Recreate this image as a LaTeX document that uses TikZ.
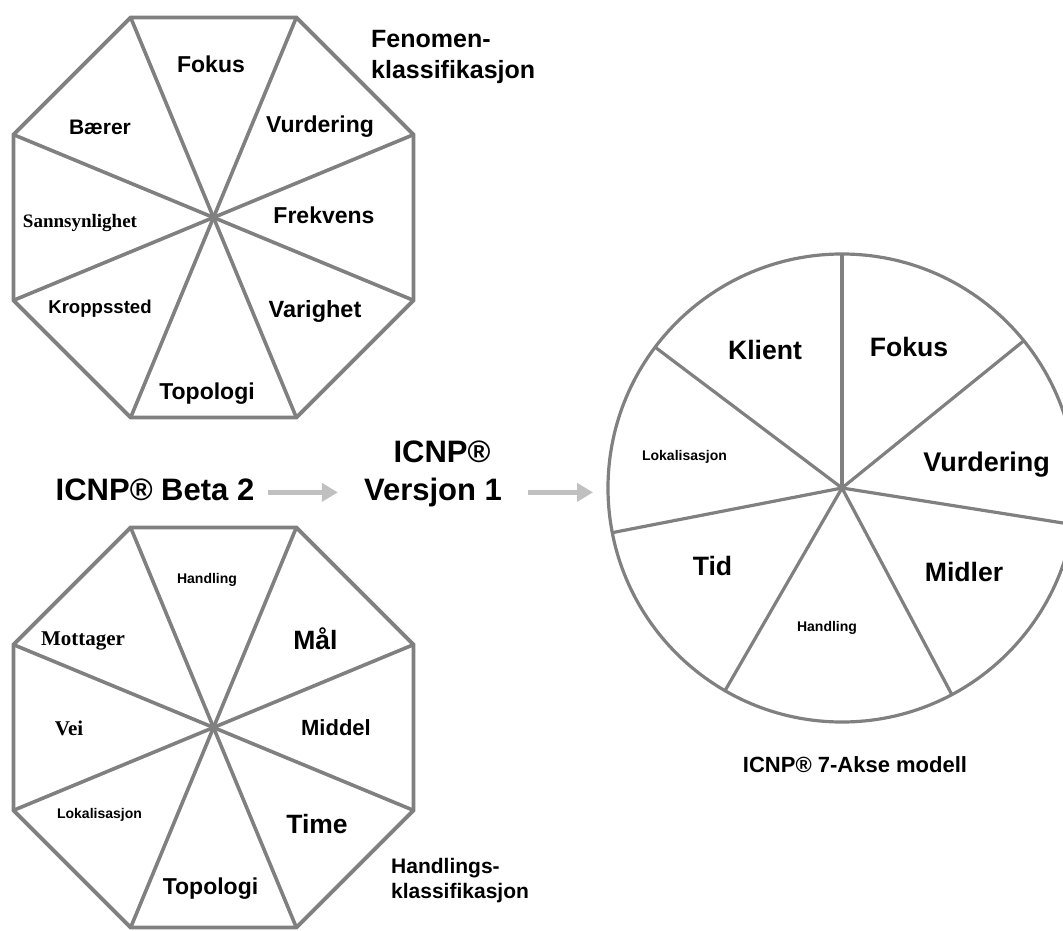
\documentclass[tikz,border=0pt]{standalone}
\usepackage{fontspec}
\setmainfont{Liberation Sans}
\newfontfamily\timesfont{Liberation Serif}
\usetikzlibrary{shapes.geometric,arrows.meta}
\definecolor{edgegray}{HTML}{808080}
\definecolor{arrowgray}{HTML}{C0C0C0}
\begin{document}
\begin{tikzpicture}[x=1pt,y=-1pt,
	spoke/.style={draw=edgegray,line width=3.6pt},
	octa/.style={regular polygon,regular polygon sides=8,minimum size=433pt,inner sep=0pt,outer sep=0pt,draw=edgegray,line width=3.8pt},
	lbl/.style={inner sep=0pt,anchor=base,font=\bfseries\fontsize{#1}{#1}\selectfont},lbl/.default=23,
	tms/.style={inner sep=0pt,anchor=base,font=\timesfont\bfseries\fontsize{#1}{#1}\selectfont},
	flow/.style={draw=arrowgray,line width=4.5pt,-{Triangle[length=16pt,width=18pt]}}]
		\useasboundingbox (0,0) rectangle (1063,931);
		\node[octa] (fenomen) at (213.5,217.5) {};
		\foreach \k in {1,...,8} \draw[spoke] (fenomen.center)--(fenomen.corner \k);
		\node[lbl] (fokus) at (211,73) {Fokus};
		\node[lbl=21] (baerer) at (100,134.5) {Bærer};
		\node[lbl] (vurd) at (320,133) {Vurdering};
		\node[tms=19] (sanns) at (80,227) {Sannsynlighet};
		\node[lbl] (frekv) at (324,223) {Frekvens};
		\node[lbl=18.6] (kropp) at (100,313) {Kroppssted};
		\node[lbl=23.5] (varig) at (315,317) {Varighet};
		\node[lbl] (topo) at (207,399) {Topologi};
		\node[anchor=north west,inner sep=0pt,align=left,font=\bfseries\fontsize{25}{31}\selectfont] (fenlab) at (371,30) {Fenomen-\\klassifikasjon};
		\node[octa] (handl) at (213.5,727.5) {};
		\foreach \k in {1,...,8} \draw[spoke] (handl.center)--(handl.corner \k);
		\node[lbl=14] (hand) at (207,583) {Handling};
		\node[tms=21] (mott) at (83,645) {Mottager};
		\node[lbl=26.5] (maal) at (315.5,649) {Mål};
		\node[tms=21] (vei) at (69,735) {Vei};
		\node[lbl=22] (middel) at (336,735) {Middel};
		\node[lbl=14] (lokal) at (99.5,818) {Lokalisasjon};
		\node[lbl=26.5] (time) at (317,833) {Time};
		\node[lbl] (topo2) at (210.5,894) {Topologi};
		\node[anchor=north west,inner sep=0pt,align=left,font=\bfseries\fontsize{21}{25}\selectfont] (handlab) at (391,858) {Handlings-\\klassifikasjon};
		\node[circle,draw=edgegray,line width=3.2pt,minimum size=468pt,inner sep=0pt,outer sep=0pt] (akse) at (842,488) {};
		\foreach \a in {90,39,351,298,240,191,143} \draw[spoke,line width=3.2pt] (akse.center)--(akse.\a);
		\node[lbl=26.6] (klient) at (765,359) {Klient};
		\node[lbl=26.6] (fokus2) at (909,356) {Fokus};
		\node[lbl=27] (vurd2) at (986.5,471) {Vurdering};
		\node[lbl=26.6] (midler) at (964,581) {Midler};
		\node[lbl=26.6] (tid) at (712.5,575) {Tid};
		\node[lbl=14] (hand2) at (827,631) {Handling};
		\node[lbl=14] (lokal2) at (684.5,460) {Lokalisasjon};
		\node[lbl=22] (modell) at (855,772) {ICNP® 7-Akse modell};
		\node[lbl=31] (beta) at (155,500) {ICNP® Beta 2};
		\node[lbl=31] (versjon) at (433,500) {Versjon 1};
		\node[lbl=31] (icnp) at (442,462) {ICNP®};
		\draw[flow,shorten <=14pt,shorten >=26pt] ([yshift=5pt]beta.mid east)--([yshift=5pt]versjon.mid west);
		\draw[flow,shorten <=26pt,shorten >=15pt] ([yshift=5pt]versjon.mid east)--([yshift=5pt]versjon.mid east -| akse.west);
	\end{tikzpicture}
\end{document}
